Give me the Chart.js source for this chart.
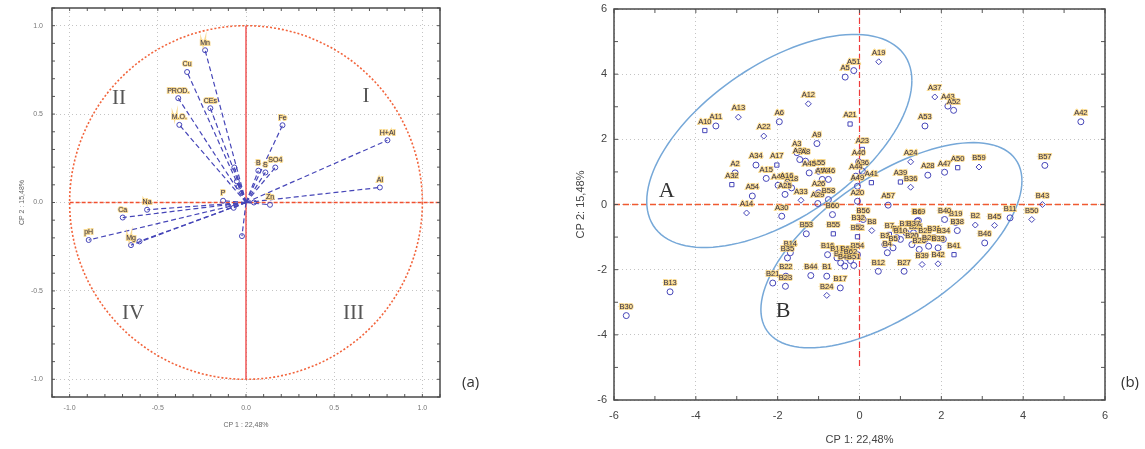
<!DOCTYPE html>
<html><head><meta charset="utf-8">
<script src="https://cdn.jsdelivr.net/npm/chart.js@4"></script>
<style>
body{margin:0;background:#fff;width:1145px;height:449px;position:relative;overflow:hidden;font-family:"Open Sans",sans-serif;}
#wa{position:absolute;left:0;top:0;width:480px;height:449px;}
#wb{position:absolute;left:560px;top:0;width:585px;height:449px;}
.tag{position:absolute;font-size:15px;color:#333;}
</style></head><body>
<div id="wa"><canvas id="ca"></canvas></div>
<div id="wb"><canvas id="cb"></canvas></div>
<div class="tag" style="left:462px;top:371px">(a)</div>
<div class="tag" style="left:1121px;top:371px">(b)</div>
<script>
// ---------- DATA: panel (a) loadings ----------
const loadNames = ['Mn','Cu','PROD.','CEs','M.O.','Fe','H+Al','Al','SO4','B','S','Zn','','P','Na','Ca','pH','Mg','','','','','','',''];
const loadCP1 = [-0.232,-0.334,-0.384,-0.202,-0.378,0.207,0.802,0.759,0.166,0.070,0.110,0.136,0.045,-0.130,-0.561,-0.699,-0.892,-0.652,-0.604,-0.023,-0.066,-0.052,-0.040,-0.100,-0.070];
const loadCP2 = [0.861,0.738,0.590,0.533,0.439,0.437,0.352,0.085,0.198,0.180,0.170,-0.013,0.000,0.010,-0.041,-0.085,-0.212,-0.241,-0.220,-0.190,0.198,0.120,0.090,-0.020,-0.030];
const quadNames = ['I','II','III','IV'];
const quadCP1 = [0.68,-0.72,0.61,-0.64];
const quadCP2 = [0.60,0.59,-0.63,-0.63];
const ticksA = [-1,-0.5,0,0.5,1];

// ---------- DATA: panel (b) scores ----------
const obsNames = ['A19','A51','A5','A12','A13','A11','A10','A6','A22','A21','A9','A23','A3','A38','A8','A34','A17','A2','A32','A15','A54','A14','A30','A48','A25','A18','A16','A33','A29','A26','A55','A45','A56','A46','A40','A36','A44','A41','A49','A20','A57','A39','A24','A28','A47','A50','A37','A43','A52','A53','A42',
'B36','B59','B57','B43','B11','B50','B45','B2','B19','B40','B38','B46','B49','B41','B39','B42','B27','B12','B3','B4','B5','B7','B9','B10','B18','B20','B25','B26','B28','B29','B31','B33','B34','B6','B37','B56','B8','B53','B55','B32','B52','B16','B15','B47','B48','B51','B54','B1','B17','B24','B44','B14','B35','B21','B22','B23','B13','B30','B58','B60','B61','B62'];
const obsCP1 = [0.47,-0.14,-0.35,-1.25,-2.96,-3.51,-3.78,-1.96,-2.34,-0.23,-1.04,0.07,-1.53,-1.46,-1.32,-2.53,-2.02,-3.04,-3.12,-2.28,-2.62,-2.76,-1.90,-1.99,-1.82,-1.66,-1.78,-1.43,-1.02,-1.00,-1.00,-1.23,-0.91,-0.76,-0.02,0.07,-0.09,0.29,-0.05,-0.05,0.70,1.00,1.25,1.67,2.08,2.40,1.84,2.16,2.30,1.60,5.41,
1.25,2.92,4.53,4.47,3.68,4.21,3.30,2.83,2.35,2.08,2.39,3.06,1.44,2.31,1.53,1.92,1.09,0.46,0.62,0.68,0.82,0.73,0.91,1.00,1.14,1.28,1.37,1.46,1.60,1.69,1.82,1.92,2.05,1.41,1.32,0.09,0.30,-1.30,-0.64,-0.03,-0.05,-0.78,-0.55,-0.46,-0.36,-0.14,-0.05,-0.80,-0.47,-0.80,-1.19,-1.69,-1.76,-2.12,-1.80,-1.81,-4.63,-5.70,-0.76,-0.66,-0.30,-0.22];
const obsCP2 = [4.38,4.11,3.91,3.09,2.68,2.41,2.27,2.54,2.10,2.47,1.87,1.69,1.59,1.38,1.33,1.21,1.21,0.97,0.61,0.80,0.26,-0.26,-0.36,0.59,0.31,0.51,0.61,0.13,0.03,0.36,1.02,0.97,0.77,0.77,1.31,1.02,0.87,0.67,0.56,0.10,-0.02,0.69,1.31,0.90,0.99,1.13,3.30,3.02,2.89,2.41,2.54,
0.53,1.15,1.20,0.00,-0.41,-0.46,-0.64,-0.63,-0.55,-0.46,-0.80,-1.18,-0.49,-1.54,-1.84,-1.82,-2.05,-2.05,-1.23,-1.48,-1.33,-0.92,-1.02,-1.07,-0.87,-1.23,-0.97,-1.38,-1.07,-1.28,-1.02,-1.33,-1.07,-0.51,-0.87,-0.46,-0.80,-0.90,-0.90,-0.67,-0.99,-1.54,-1.64,-1.79,-1.89,-1.87,-1.54,-2.20,-2.56,-2.79,-2.18,-1.48,-1.64,-2.41,-2.20,-2.51,-2.68,-3.41,0.15,-0.31,-1.62,-1.72];
const obsShape = ['rectRot','circle','circle','rectRot','rectRot','circle','rect','circle','rectRot','rect','circle','rect','circle','circle','circle','circle','rect','circle','rect','circle','circle','rectRot','circle','circle','circle','circle','circle','rectRot','circle','circle','circle','circle','circle','circle','circle','circle','circle','rect','circle','circle','circle','rect','rectRot','circle','circle','rect','rectRot','circle','circle','circle','circle',
'rectRot','rectRot','circle','rectRot','circle','rectRot','rectRot','rectRot','circle','circle','circle','circle','circle','rect','rectRot','rectRot','circle','circle','circle','circle','circle','rect','circle','circle','circle','circle','circle','circle','circle','circle','circle','circle','circle','circle','circle','circle','rectRot','circle','rect','rect','rect','circle','circle','circle','circle','circle','circle','circle','circle','rectRot','circle','circle','circle','circle','circle','circle','circle','circle','circle','circle','circle','circle'];
const groupNames = ['A','B'];
const groupCP1 = [-4.71,-1.87];
const groupCP2 = [0.41,-3.28];
const ellCX = [-1.96,0.78];
const ellCY = [1.95,-1.25];
const ellHW = [3.24,3.19];
const ellHH = [3.27,3.15];
const ellCov = [6.0,6.3];
const ticksB = [-6,-4,-2,0,2,4,6];

Chart.defaults.font.family = '"Liberation Sans", Arial, sans-serif';
const BLUE = '#4646b8';

function frameAndTicks(chart, step, lo, hi, len){
  const ctx = chart.ctx, a = chart.chartArea, xs = chart.scales.x, ys = chart.scales.y;
  ctx.save();
  ctx.strokeStyle = '#555'; ctx.lineWidth = 1;
  const n = Math.round((hi-lo)/step);
  ctx.beginPath();
  for(let i=0;i<=n;i++){
    const v = lo + i*step;
    const px = xs.getPixelForValue(v), py = ys.getPixelForValue(v);
    ctx.moveTo(px,a.bottom); ctx.lineTo(px,a.bottom-len);
    ctx.moveTo(px,a.top); ctx.lineTo(px,a.top+len);
    ctx.moveTo(a.left,py); ctx.lineTo(a.left+len,py);
    ctx.moveTo(a.right,py); ctx.lineTo(a.right-len,py);
  }
  ctx.stroke();
  ctx.lineWidth = 1.5; ctx.strokeStyle='#4a4a4a';
  ctx.strokeRect(a.left,a.top,a.right-a.left,a.bottom-a.top);
  ctx.restore();
}
function haloText(ctx, t, x, y){
  ctx.lineWidth = 2; ctx.strokeStyle = 'rgba(245,205,110,0.75)';
  ctx.strokeText(t,x,y);
  ctx.fillStyle = '#2f2d48'; ctx.fillText(t,x,y);
}
function fitX(h){ return s=>{ s.height=h; s.paddingLeft=0; s.paddingRight=0; }; }
function fitY(w){ return s=>{ s.width=w; s.paddingTop=0; s.paddingBottom=0; }; }

// ---------- Panel (a) ----------
const vecSets = loadCP1.map((v,i)=>({
  data:[{x:0,y:0},{x:v,y:loadCP2[i]}],
  showLine:true, borderColor:BLUE, borderWidth:1.2, borderDash:[5,3],
  pointRadius:[0,2.5], pointBorderColor:BLUE, pointBackgroundColor:'rgba(0,0,0,0)', pointBorderWidth:1
}));
const plugA = {
  id:'pa',
  beforeDatasetsDraw(chart){
    const ctx=chart.ctx, xs=chart.scales.x, ys=chart.scales.y, a=chart.chartArea;
    const cx=xs.getPixelForValue(0), cy=ys.getPixelForValue(0);
    const rx=xs.getPixelForValue(1)-cx, ry=cy-ys.getPixelForValue(1);
    ctx.save();
    ctx.strokeStyle='#f2643c'; ctx.lineWidth=1.6; ctx.setLineDash([2,2]);
    ctx.beginPath(); ctx.ellipse(cx,cy,rx,ry,0,0,Math.PI*2); ctx.stroke();
    ctx.setLineDash([4,2]); ctx.strokeStyle='#f05030';
    ctx.beginPath(); ctx.moveTo(xs.getPixelForValue(-1),cy); ctx.lineTo(a.right,cy); ctx.stroke();
    ctx.setLineDash([]); ctx.strokeStyle='#ee3b3b'; ctx.lineWidth=1.3;
    ctx.beginPath(); ctx.moveTo(cx,ys.getPixelForValue(1)); ctx.lineTo(cx,ys.getPixelForValue(-1)); ctx.stroke();
    ctx.fillStyle='#555'; ctx.font='21px "Liberation Serif", serif'; ctx.textAlign='center'; ctx.textBaseline='middle';
    quadNames.forEach((q,i)=>ctx.fillText(q,xs.getPixelForValue(quadCP1[i]),ys.getPixelForValue(quadCP2[i])));
    ctx.restore();
  },
  afterDatasetsDraw(chart){
    const ctx=chart.ctx, xs=chart.scales.x, ys=chart.scales.y;
    ctx.save();
    ctx.font='7px "Liberation Sans", sans-serif'; ctx.textAlign='center'; ctx.textBaseline='bottom';
    loadNames.forEach((n,i)=>{ if(n) haloText(ctx,n,xs.getPixelForValue(loadCP1[i]),ys.getPixelForValue(loadCP2[i])-4); });
    ctx.restore();
    frameAndTicks(chart,0.1,-1.1,1.1,3);
  }
};
new Chart(document.getElementById('ca'),{
  type:'scatter',
  data:{datasets:vecSets},
  options:{
    responsive:true, maintainAspectRatio:false, animation:false,
    layout:{padding:{left:0,right:40,top:8,bottom:0}},
    plugins:{legend:{display:false},tooltip:{enabled:false}},
    scales:{
      x:{type:'linear',min:-1.1,max:1.1,
        afterBuildTicks:s=>{s.ticks=ticksA.map(v=>({value:v}));},
        afterFit:fitX(52),
        grid:{color:'#c4c4c4',drawTicks:false,lineWidth:1},
        border:{display:false,dash:[1,3]},
        ticks:{padding:7,maxRotation:0,font:{size:7},color:'#777',callback:v=>Number(v).toFixed(1)},
        title:{display:true,text:'CP 1 : 22,48%',font:{size:7},color:'#666',padding:{top:0,bottom:20}}},
      y:{type:'linear',min:-1.1,max:1.1,
        afterBuildTicks:s=>{s.ticks=ticksA.map(v=>({value:v}));},
        afterFit:fitY(52),
        grid:{color:'#c4c4c4',drawTicks:false,lineWidth:1},
        border:{display:false,dash:[1,3]},
        ticks:{padding:9,font:{size:7},color:'#777',callback:v=>Number(v).toFixed(1)},
        title:{display:true,text:'CP 2 : 15,48%',font:{size:7},color:'#666',padding:{top:18,bottom:0}}}
    }
  },
  plugins:[plugA]
});

// ---------- Panel (b) ----------
const plugB = {
  id:'pb',
  beforeDatasetsDraw(chart){
    const ctx=chart.ctx, xs=chart.scales.x, ys=chart.scales.y, a=chart.chartArea;
    const cx=xs.getPixelForValue(0), cy=ys.getPixelForValue(0);
    ctx.save();
    ctx.lineWidth=1.5; ctx.setLineDash([6,3]);
    ctx.strokeStyle='#f05a30';
    ctx.beginPath(); ctx.moveTo(a.left,cy); ctx.lineTo(a.right,cy); ctx.stroke();
    ctx.strokeStyle='#ee3b3b'; ctx.lineWidth=1.2;
    ctx.beginPath(); ctx.moveTo(cx,a.top); ctx.lineTo(cx,ys.getPixelForValue(-5)); ctx.stroke();
    ctx.setLineDash([]);
    ctx.strokeStyle='#76a8d8'; ctx.lineWidth=1.5;
    for(let k=0;k<ellCX.length;k++){
      const u=ellCov[k]/ellHW[k], w=Math.sqrt(ellHH[k]*ellHH[k]-u*u);
      ctx.beginPath();
      for(let j=0;j<=120;j++){
        const t=j/120*Math.PI*2;
        const px=xs.getPixelForValue(ellCX[k]+ellHW[k]*Math.cos(t));
        const py=ys.getPixelForValue(ellCY[k]+u*Math.cos(t)+w*Math.sin(t));
        if(j===0) ctx.moveTo(px,py); else ctx.lineTo(px,py);
      }
      ctx.stroke();
    }
    ctx.fillStyle='#333'; ctx.font='22px "Liberation Serif", serif'; ctx.textAlign='center'; ctx.textBaseline='middle';
    groupNames.forEach((g,i)=>ctx.fillText(g,xs.getPixelForValue(groupCP1[i]),ys.getPixelForValue(groupCP2[i])));
    ctx.restore();
  },
  afterDatasetsDraw(chart){
    const ctx=chart.ctx, xs=chart.scales.x, ys=chart.scales.y;
    ctx.save();
    ctx.font='7.5px "Liberation Sans", sans-serif'; ctx.textAlign='center'; ctx.textBaseline='bottom';
    obsNames.forEach((n,i)=>haloText(ctx,n,xs.getPixelForValue(obsCP1[i]),ys.getPixelForValue(obsCP2[i])-5));
    ctx.restore();
    frameAndTicks(chart,1,-6,6,4);
  }
};
new Chart(document.getElementById('cb'),{
  type:'scatter',
  data:{datasets:[{
    data:obsCP1.map((v,i)=>({x:v,y:obsCP2[i]})),
    pointStyle:obsShape, pointRadius:3, pointBorderWidth:1,
    pointBorderColor:BLUE, pointBackgroundColor:'rgba(0,0,0,0)'
  }]},
  options:{
    responsive:true, maintainAspectRatio:false, animation:false,
    layout:{padding:{left:0,right:40,top:9,bottom:0}},
    plugins:{legend:{display:false},tooltip:{enabled:false}},
    scales:{
      x:{type:'linear',min:-6,max:6,
        afterBuildTicks:s=>{s.ticks=ticksB.map(v=>({value:v}));},
        afterFit:fitX(49),
        grid:{color:'#c4c4c4',drawTicks:false,lineWidth:1},
        border:{display:false,dash:[1,3]},
        ticks:{padding:9,maxRotation:0,font:{size:11},color:'#444'},
        title:{display:true,text:'CP 1: 22,48%',font:{size:11},color:'#444',padding:{top:0,bottom:2}}},
      y:{type:'linear',min:-6,max:6,
        afterBuildTicks:s=>{s.ticks=ticksB.map(v=>({value:v}));},
        afterFit:fitY(54),
        grid:{color:'#c4c4c4',drawTicks:false,lineWidth:1},
        border:{display:false,dash:[1,3]},
        ticks:{padding:7,font:{size:11},color:'#444'},
        title:{display:true,text:'CP 2: 15,48%',font:{size:11},color:'#444',padding:{top:14,bottom:0}}}
    }
  },
  plugins:[plugB]
});
</script>
</body></html>
